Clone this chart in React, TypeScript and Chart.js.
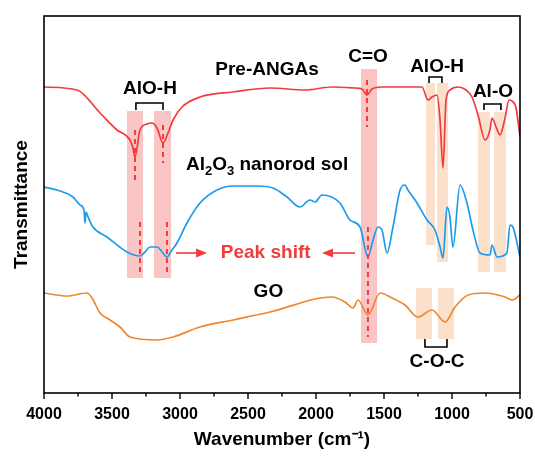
import React, { useEffect, useRef } from "react";
import { Chart, registerables } from "chart.js";
Chart.register(...registerables);

// ---- Data (wavenumber in cm-1, transmittance in arbitrary offset units) ----
const preWn = [4000, 3757, 3588, 3463, 3368, 3346, 3331, 3294, 3243, 3206, 3169, 3125, 3088, 3051, 2985, 2853, 2610, 2338, 2081, 1882, 1713, 1662, 1625, 1588, 1515, 1221, 1176, 1147, 1110, 1088, 1066, 1044, 1015, 956, 897, 853, 809, 757, 721, 706, 676, 647, 610, 581, 559, 529, 500];
const preT = [306, 303, 280, 263, 253, 245, 236, 263, 269, 270, 265, 250, 260, 273, 286, 296, 301, 305, 303, 306, 305, 304, 298, 304, 306, 306, 293, 296, 298, 273, 225, 293, 303, 306, 303, 296, 278, 253, 263, 275, 266, 258, 275, 293, 292, 285, 256];

const solWn = [4000, 3882, 3787, 3735, 3706, 3699, 3691, 3676, 3640, 3537, 3390, 3294, 3257, 3221, 3169, 3125, 3096, 3059, 3022, 2949, 2853, 2728, 2610, 2434, 2316, 2213, 2118, 2044, 2007, 1956, 1824, 1750, 1676, 1618, 1581, 1544, 1515, 1478, 1434, 1382, 1346, 1324, 1257, 1184, 1125, 1088, 1066, 1037, 1015, 993, 941, 890, 846, 794, 721, 706, 669, 596, 574, 552, 500];
const solT = [206, 202, 196, 188, 183, 170, 181, 176, 166, 156, 141, 137, 141, 146, 146, 140, 136, 143, 150, 170, 190, 203, 207, 207, 205, 196, 186, 193, 191, 198, 190, 173, 166, 136, 153, 166, 163, 140, 166, 203, 208, 203, 190, 173, 163, 146, 135, 186, 176, 146, 208, 190, 163, 140, 138, 148, 136, 140, 168, 166, 136];

const goWn = [4000, 3831, 3684, 3647, 3588, 3515, 3441, 3368, 3169, 3051, 2853, 2610, 2338, 1882, 1787, 1728, 1691, 1618, 1529, 1441, 1346, 1250, 1147, 1051, 978, 882, 757, 610, 559, 500];
const goT = [100, 97, 100, 95, 80, 73, 66, 56, 53, 56, 66, 73, 81, 96, 91, 85, 93, 78, 100, 95, 88, 76, 83, 71, 86, 98, 100, 96, 93, 98];

const xTicks = [4000, 3500, 3000, 2500, 2000, 1500, 1000, 500];

// ---- Styles ----
const RED = "#F03C3E";
const BLUE = "#1C9BEF";
const ORANGE = "#F0872E";
const PINK = "rgba(244,140,140,0.5)";
const PEACH = "rgba(247,200,160,0.55)";
const FONT = '"Liberation Sans", Arial, sans-serif';

// ---- Annotations (data coordinates) ----
const bands = [
  { from: 3390, to: 3272, top: 282, bottom: 115, color: PINK },
  { from: 3191, to: 3066, top: 282, bottom: 115, color: PINK },
  { from: 1669, to: 1551, top: 324, bottom: 50, color: PINK },
  { from: 1191, to: 1125, top: 310, bottom: 148, color: PEACH },
  { from: 1110, to: 1029, top: 310, bottom: 131, color: PEACH },
  { from: 809, to: 721, top: 281, bottom: 121, color: PEACH },
  { from: 691, to: 603, top: 281, bottom: 121, color: PEACH },
  { from: 1265, to: 1147, top: 105, bottom: 54, color: PEACH },
  { from: 1103, to: 985, top: 105, bottom: 54, color: PEACH },
];

const dashes = [
  { wn: 3331, y1: 263, y2: 213 },
  { wn: 3125, y1: 268, y2: 230 },
  { wn: 3294, y1: 171, y2: 120 },
  { wn: 3096, y1: 171, y2: 120 },
  { wn: 1625, y1: 313, y2: 266 },
  { wn: 1618, y1: 166, y2: 56 },
];

const brackets = [
  { a: 3324, b: 3125, bar: 290, leg: 283 },
  { a: 1169, b: 1074, bar: 316, leg: 310 },
  { a: 765, b: 640, bar: 289, leg: 283 },
  { a: 1199, b: 1037, bar: 46, leg: 54 },
];

const labels = [
  { text: "AlO-H", wn: 3221, y: 304, color: "#000" },
  { text: "AlO-H", wn: 1110, y: 326, color: "#000" },
  { text: "Al-O", wn: 699, y: 301, color: "#000" },
  { text: "C=O", wn: 1618, y: 336, color: "#000" },
  { text: "C-O-C", wn: 1110, y: 31, color: "#000" },
  { text: "Pre-ANGAs", wn: 2360, y: 323, color: "#000" },
  { text: "Peak shift", wn: 2370, y: 140, color: RED },
  { text: "GO", wn: 2350, y: 101, color: "#000" },
];

const solLabel = { wn: 2360, y: 228 };

const arrows = [
  { from: 3029, to: 2801, y: 140 },
  { from: 1713, to: 1956, y: 140 },
];

const annotPlugin = {
  id: "annot",
  beforeDatasetsDraw(chart: any) {
    const { ctx, scales } = chart;
    const x = scales.x, y = scales.y;
    ctx.save();
    for (const b of bands) {
      const x1 = x.getPixelForValue(b.from), x2 = x.getPixelForValue(b.to);
      const y1 = y.getPixelForValue(b.top), y2 = y.getPixelForValue(b.bottom);
      ctx.fillStyle = b.color;
      ctx.fillRect(Math.min(x1, x2), y1, Math.abs(x2 - x1), y2 - y1);
    }
    ctx.restore();
  },
  afterDatasetsDraw(chart: any) {
    const { ctx, scales } = chart;
    const x = scales.x, y = scales.y;
    ctx.save();
    // dashed lines
    ctx.strokeStyle = RED;
    ctx.lineWidth = 2;
    ctx.setLineDash([5, 4]);
    for (const d of dashes) {
      const px = x.getPixelForValue(d.wn);
      ctx.beginPath();
      ctx.moveTo(px, y.getPixelForValue(d.y1));
      ctx.lineTo(px, y.getPixelForValue(d.y2));
      ctx.stroke();
    }
    ctx.setLineDash([]);
    // brackets
    ctx.strokeStyle = "#000";
    ctx.lineWidth = 1.6;
    for (const b of brackets) {
      const xa = x.getPixelForValue(b.a), xb = x.getPixelForValue(b.b);
      const yb = y.getPixelForValue(b.bar), yl = y.getPixelForValue(b.leg);
      ctx.beginPath();
      ctx.moveTo(xa, yl);
      ctx.lineTo(xa, yb);
      ctx.lineTo(xb, yb);
      ctx.lineTo(xb, yl);
      ctx.stroke();
    }
    // arrows
    ctx.strokeStyle = RED;
    ctx.fillStyle = RED;
    ctx.lineWidth = 1.6;
    for (const a of arrows) {
      const x1 = x.getPixelForValue(a.from), x2 = x.getPixelForValue(a.to);
      const py = y.getPixelForValue(a.y);
      const dir = x2 > x1 ? 1 : -1;
      ctx.beginPath();
      ctx.moveTo(x1, py);
      ctx.lineTo(x2 - dir * 8, py);
      ctx.stroke();
      ctx.beginPath();
      ctx.moveTo(x2, py);
      ctx.lineTo(x2 - dir * 11, py - 4.5);
      ctx.lineTo(x2 - dir * 11, py + 4.5);
      ctx.closePath();
      ctx.fill();
    }
    // labels
    ctx.textAlign = "center";
    ctx.textBaseline = "middle";
    ctx.font = `bold 19px ${FONT}`;
    for (const l of labels) {
      ctx.fillStyle = l.color;
      ctx.fillText(l.text, x.getPixelForValue(l.wn), y.getPixelForValue(l.y));
    }
    // Al2O3 nanorod sol with subscripts
    const parts = [
      { t: "Al", sub: false },
      { t: "2", sub: true },
      { t: "O", sub: false },
      { t: "3", sub: true },
      { t: " nanorod sol", sub: false },
    ];
    const big = `bold 19px ${FONT}`;
    const small = `bold 13px ${FONT}`;
    let total = 0;
    const widths = parts.map((p) => {
      ctx.font = p.sub ? small : big;
      const w = ctx.measureText(p.t).width;
      total += w;
      return w;
    });
    let cx = x.getPixelForValue(solLabel.wn) - total / 2;
    const cy = y.getPixelForValue(solLabel.y);
    ctx.textAlign = "left";
    ctx.fillStyle = "#000";
    parts.forEach((p, i) => {
      ctx.font = p.sub ? small : big;
      ctx.fillText(p.t, cx, p.sub ? cy + 6 : cy);
      cx += widths[i];
    });
    ctx.restore();
  },
  afterDraw(chart: any) {
    const { ctx, chartArea, scales } = chart;
    const x = scales.x;
    ctx.save();
    ctx.strokeStyle = "#000";
    ctx.lineWidth = 1.6;
    ctx.strokeRect(chartArea.left, chartArea.top, chartArea.right - chartArea.left, chartArea.bottom - chartArea.top);
    ctx.lineWidth = 1.4;
    for (let v = 500; v <= 4000; v += 250) {
      const px = x.getPixelForValue(v);
      const len = v % 500 === 0 ? 6 : 3.5;
      ctx.beginPath();
      ctx.moveTo(px, chartArea.bottom);
      ctx.lineTo(px, chartArea.bottom + len);
      ctx.stroke();
    }
    ctx.restore();
  },
};

export default function App() {
  const ref = useRef<HTMLCanvasElement>(null);
  useEffect(() => {
    document.body.style.margin = "0";
    const canvas = ref.current!;
    const mk = (wn: number[], t: number[]) => wn.map((v, i) => ({ x: v, y: t[i] }));
    const ds = (label: string, data: any, color: string) => ({
      label,
      data,
      borderColor: color,
      borderWidth: 1.7,
      pointRadius: 0,
      fill: false,
      cubicInterpolationMode: "monotone" as const,
    });
    const chart = new Chart(canvas, {
      type: "line",
      data: {
        datasets: [
          ds("Pre-ANGAs", mk(preWn, preT), RED),
          ds("Al2O3 nanorod sol", mk(solWn, solT), BLUE),
          ds("GO", mk(goWn, goT), ORANGE),
        ],
      },
      options: {
        animation: false,
        responsive: false,
        layout: { padding: { top: 16, right: 15, left: 6, bottom: 8 } },
        plugins: { legend: { display: false }, tooltip: { enabled: false } },
        scales: {
          x: {
            type: "linear",
            reverse: true,
            min: 500,
            max: 4000,
            afterBuildTicks: (s: any) => {
              s.ticks = xTicks.map((v) => ({ value: v }));
            },
            ticks: {
              color: "#000",
              font: { family: FONT, size: 16, weight: "bold" },
              padding: 4,
              maxRotation: 0,
              autoSkip: false,
              callback: (v: any) => String(v),
            },
            grid: { display: false },
            border: { display: false },
            title: {
              display: true,
              text: "Wavenumber (cm⁻¹)",
              color: "#000",
              font: { family: FONT, size: 19, weight: "bold" },
              padding: { top: 0, bottom: 4 },
            },
            afterFit: (s: any) => {
              s.height = 62;
              s.paddingLeft = 0;
              s.paddingRight = 0;
            },
          },
          y: {
            min: 0,
            max: 377,
            ticks: { display: false },
            grid: { display: false },
            border: { display: false },
            title: {
              display: true,
              text: "Transmittance",
              color: "#000",
              font: { family: FONT, size: 19, weight: "bold" },
              padding: { top: 4, bottom: 4 },
            },
            afterFit: (s: any) => {
              s.width = 38;
            },
          },
        },
      },
      plugins: [annotPlugin],
    } as any);
    return () => chart.destroy();
  }, []);
  return (
    <div style={{ width: 535, height: 463 }}>
      <canvas ref={ref} width={535} height={463} />
    </div>
  );
}
